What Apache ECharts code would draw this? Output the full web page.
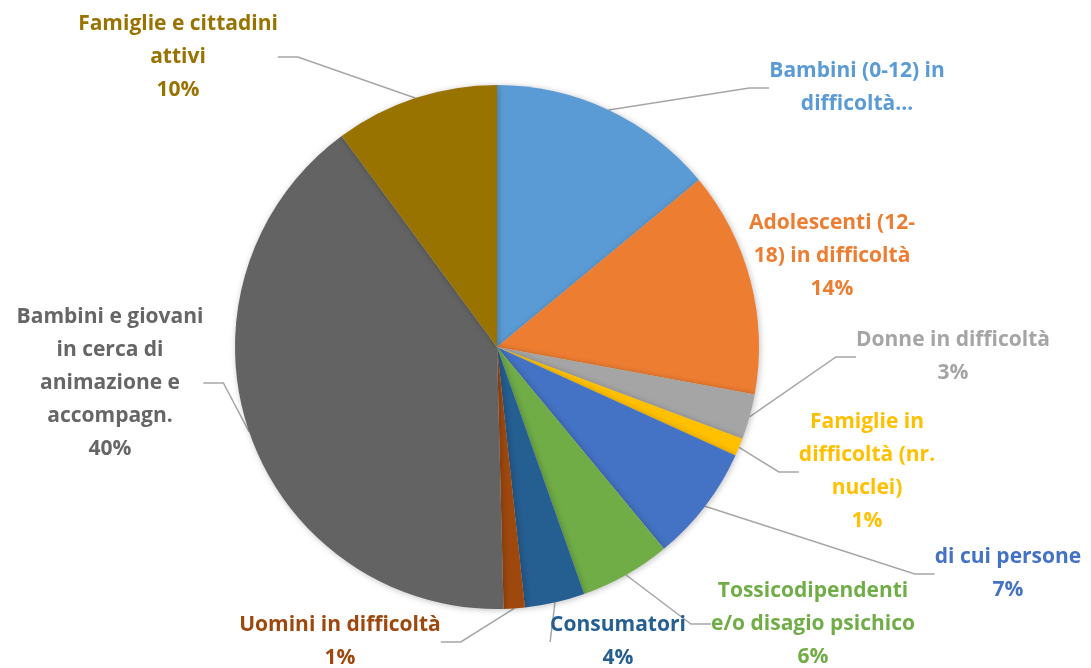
<!DOCTYPE html>
<html><head><meta charset="utf-8">
<script src="https://cdn.jsdelivr.net/npm/echarts@6/dist/echarts.min.js"></script>
<style>html,body{margin:0;padding:0;background:#fff}#c{width:1091px;height:668px}</style>
</head><body><div id="c"></div>
<script>
// categories (clockwise from 12 o'clock)
const categories = [
  'Bambini (0-12) in difficoltà',
  'Adolescenti (12-18) in difficoltà',
  'Donne in difficoltà',
  'Famiglie in difficoltà (nr. nuclei)',
  'di cui persone',
  'Tossicodipendenti e/o disagio psichico',
  'Consumatori',
  'Uomini in difficoltà',
  'Bambini e giovani in cerca di animazione e accompagn.',
  'Famiglie e cittadini attivi'
];
// values (percent shares)
const values = [14.0, 13.9, 2.8, 1.1, 7.2, 5.6, 3.7, 1.3, 40.3, 10.1];
// label texts as wrapped in the picture
const labelTexts = [
  'Bambini (0-12) in\ndifficoltà…',
  'Adolescenti (12-\n18) in difficoltà',
  'Donne in difficoltà',
  'Famiglie in\ndifficoltà (nr.\nnuclei)',
  'di cui persone',
  'Tossicodipendenti\ne/o disagio psichico',
  'Consumatori',
  'Uomini in difficoltà',
  'Bambini e giovani\nin cerca di\nanimazione e\naccompagn.',
  'Famiglie e cittadini\nattivi'
];
const showPercent = [false, true, true, true, true, true, true, true, true, true];
const showLine = [true, false, true, true, true, true, true, true, true, true];
const colors = ['#5B9BD5','#ED7D31','#A5A5A5','#FFC000','#4472C4','#70AD47','#255E91','#9E480E','#636363','#997300'];
const labelColors = ['#5B9BD5','#ED7D31','#A5A5A5','#FFC000','#4472C4','#70AD47','#255E91','#9E480E','#666666','#997300'];
// label block centers (layout)
const labelPos = [
  [857, 88], [832, 256], [953, 357], [867, 472], [1008, 574],
  [813, 624], [618, 642], [340, 642], [110, 383], [178, 57]
];

const chart = echarts.init(document.getElementById('c'), null, {renderer: 'canvas'});
chart.setOption({
  animation: false,
  series: [{
    type: 'pie',
    center: [497, 347],
    radius: [0, 262],
    startAngle: 90,
    clockwise: true,
    avoidLabelOverlap: false,
    data: categories.map((n, i) => ({
      name: n, value: values[i],
      itemStyle: {color: colors[i]},
      label: {color: labelColors[i]},
      labelLine: {show: showLine[i]}
    })),
    itemStyle: {shadowBlur: 6, shadowColor: 'rgba(0,0,0,0.25)', shadowOffsetX: 1, shadowOffsetY: 1},
    label: {
      show: true,
      position: 'outside',
      fontFamily: '"Open Sans", Lato, sans-serif',
      fontWeight: 'bold',
      fontSize: 21,
      lineHeight: 33,
      align: 'center',
      formatter: p => labelTexts[p.dataIndex] + (showPercent[p.dataIndex] ? '\n' + Math.round(p.percent) + '%' : '')
    },
    labelLine: {show: true, length: 20, length2: 20, lineStyle: {color: '#A6A6A6', width: 1.5}},
    labelLayout: p => ({
      x: labelPos[p.dataIndex][0],
      y: labelPos[p.dataIndex][1],
      align: 'center',
      verticalAlign: 'middle'
    })
  }]
});
</script>
</body></html>
